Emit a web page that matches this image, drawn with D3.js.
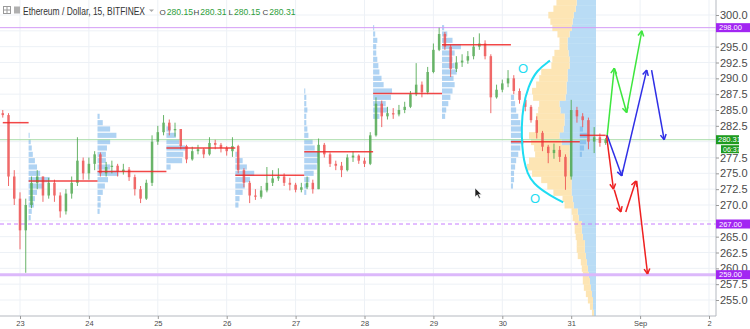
<!DOCTYPE html>
<html>
<head>
<meta charset="utf-8">
<script src="https://cdn.jsdelivr.net/npm/d3@7"></script>
<style>
  body { margin: 0; background: #fff; }
  svg { display: block; font-family: "Liberation Sans", Arial, sans-serif; }
</style>
</head>
<body>
<svg id="chart" width="750" height="329"></svg>
<script>
const candleStart = Date.UTC(2017, 7, 22, 18);
const candleHours = 2;
const firstOpen = 284.5;
const closes = [284.2, 274.5, 271.0, 266.0, 270.0, 273.5, 274.5, 271.5, 273.5, 271.5,
  269.0, 271.8, 273.5, 277.0, 275.0, 276.5, 278.0, 275.0, 276.0, 276.2,
  275.3, 275.6, 274.4, 272.5, 271.0, 273.5, 280.0, 281.5, 283.0, 281.8,
  282.0, 279.3, 277.2, 278.5, 278.8, 278.0, 279.8, 279.5, 279.0, 278.5,
  279.3, 275.5, 273.5, 271.5, 271.3, 272.3, 273.5, 274.2, 274.5, 273.5,
  273.2, 272.4, 272.8, 273.5, 272.5, 279.5, 278.0, 276.5, 276.2, 275.5,
  277.5, 277.8, 277.0, 276.5, 281.0, 286.0, 284.0, 284.5, 284.3, 285.0,
  285.5, 287.5, 289.0, 287.8, 291.0, 294.5, 297.0, 295.0, 291.5, 292.5,
  292.8, 293.5, 295.0, 295.5, 293.5, 287.0, 288.2, 289.2, 290.0, 288.0,
  286.6, 285.5, 283.4, 281.4, 279.2, 278.2, 278.7, 277.6, 274.5, 285.0,
  284.0, 283.4, 280.0, 280.7, 279.8, 280.31];
const highs = [285.0, 284.5, 275.5, 272.0, 271.0, 274.5, 275.5, 274.5, 274.3, 274.0,
  272.0, 272.5, 274.5, 280.7, 277.5, 277.5, 278.5, 278.3, 276.8, 277.0,
  276.5, 276.5, 276.0, 274.8, 273.0, 274.0, 281.0, 282.5, 284.2, 283.5,
  283.0, 282.0, 279.5, 279.2, 279.5, 279.0, 280.7, 280.3, 279.8, 279.3,
  280.7, 279.5, 275.8, 273.8, 272.5, 273.0, 276.0, 275.5, 275.8, 275.0,
  274.3, 273.5, 273.5, 274.5, 274.0, 280.5, 279.8, 278.3, 277.0, 276.8,
  278.0, 278.5, 278.0, 277.5, 281.5, 287.0, 286.5, 285.5, 285.3, 285.8,
  286.3, 288.0, 292.4, 289.5, 291.8, 295.5, 298.0, 297.3, 295.3, 293.5,
  293.8, 294.3, 296.5, 297.1, 296.0, 293.8, 289.0, 289.8, 291.3, 290.5,
  288.4, 287.0, 285.8, 284.0, 281.7, 279.5, 279.7, 279.3, 278.0, 286.6,
  285.5, 284.5, 283.8, 282.3, 281.3, 280.6];
const lows = [283.8, 273.0, 270.0, 263.0, 259.3, 269.5, 272.5, 270.5, 271.0, 270.5,
  268.0, 268.5, 271.0, 273.0, 274.0, 274.0, 275.5, 274.5, 274.5, 275.0,
  274.5, 274.8, 273.8, 271.5, 270.3, 270.8, 273.0, 279.5, 281.0, 281.0,
  280.8, 278.8, 276.6, 277.0, 278.0, 277.4, 277.8, 278.8, 278.3, 277.8,
  277.6, 275.0, 272.8, 270.3, 270.8, 271.0, 272.0, 273.0, 273.8, 273.0,
  272.3, 272.0, 272.0, 272.5, 271.8, 272.5, 277.5, 276.0, 275.5, 274.4,
  275.3, 276.8, 276.5, 276.0, 276.3, 280.8, 282.3, 283.5, 283.6, 284.0,
  284.5, 285.3, 287.2, 287.0, 287.5, 290.8, 294.3, 294.5, 290.2, 291.0,
  291.8, 292.3, 293.0, 294.5, 293.0, 284.5, 286.8, 287.8, 288.6, 287.5,
  286.0, 284.8, 283.0, 280.5, 278.5, 276.6, 277.3, 276.8, 272.4, 274.0,
  283.0, 282.3, 278.8, 278.2, 279.2, 279.5];

const priceTicks = [255, 257.5, 260, 262.5, 265, 267.5, 270, 272.5, 275, 277.5,
  280, 282.5, 285, 287.5, 290, 292.5, 295, 297.5, 300];
const dayTicks = ["2017-08-23", "2017-08-24", "2017-08-25", "2017-08-26", "2017-08-27",
  "2017-08-28", "2017-08-29", "2017-08-30", "2017-08-31", "2017-09-01", "2017-09-02"];
const dayLabels = ["23", "24", "25", "26", "27", "28", "29", "30", "31", "Sep", "2"];

const levelPrices = [298, 267, 259];
const lastPrice = 280.31;
const countdown = "06:37";
const ohlcNames = ["O", "H", "L", "C"];
const ohlcValues = ["280.15", "280.31", "280.15", "280.31"];

// session volume profiles (start hour counted from Aug 23 00:00)
const sessionStartHours = [-6, 3, 27, 51, 75, 99, 123, 147, 171, 195];
const sessionPoc = [283.0, 273.8, 275.3, 279.0, 274.7, 278.4, 287.6, 295.3, 280.0, 281.0];
const sessionLowBin = [null, 268, 269, 276, 270, 272, 284, 284, 273, 278];
const sessionVolumes = [
  [],
  [2, 3, 5, 6, 8, 14, 20, 11, 8, 6, 4, 3, 2, 1],
  [2, 3, 3, 5, 7, 10, 20, 12, 8, 8, 9, 12, 18, 12, 5, 2],
  [4, 15, 16, 18, 12, 9, 4],
  [3, 4, 7, 9, 14, 18, 11, 7, 3],
  [2, 3, 5, 9, 12, 13, 14, 10, 8, 4, 3, 2, 2, 3, 2, 2, 1],
  [6, 14, 12, 17, 18, 10, 8, 6, 5, 4, 3, 3, 4, 2, 1],
  [3, 4, 6, 8, 10, 12, 11, 14, 12, 10, 12, 18, 10, 5, 2],
  [2, 3, 3, 4, 5, 7, 9, 12, 10, 10, 9, 7, 5, 4, 3],
  [2, 4, 6, 7, 3]
];

// visible range profile, one bin per dollar from 253
const vpLowBin = 253;
const vpUpVol = [2, 3, 3, 4, 5, 6, 7, 8, 9, 10, 11, 11, 13, 14, 14, 17, 18, 22, 23, 24,
  24, 24, 25, 26, 26, 26, 26, 34, 36, 32, 31, 31, 35, 36, 30, 29, 29, 28, 28, 26,
  26, 27, 28, 28, 26, 24, 23, 22, 20, 19];
const vpDownVol = [2, 3, 5, 6, 7, 7, 6, 6, 6, 8, 8, 8, 7, 7, 7, 6, 6, 9, 10, 18,
  24, 30, 38, 42, 40, 34, 35, 30, 30, 26, 28, 28, 22, 20, 32, 34, 30, 28, 26, 18,
  17, 14, 8, 8, 12, 19, 22, 25, 22, 20];

// drawings: [hours from Aug 23 00:00, price]
const cyanCurve = [[184.6, 292.8], [180.0, 291.3], [177.0, 288.7], [175.2, 285.5], [174.7, 282.4],
  [174.9, 279.2], [175.5, 277.1], [176.7, 275.0], [178.8, 273.4], [183.5, 271.8], [189.2, 270.4]];
const cyanLabels = [[175.2, 291.6], [179.4, 271.1]];
const greenSegs = [[[204.5, 280.8], [207.0, 291.6]], [[207.0, 291.6], [211.3, 284.6]], [[211.3, 284.6], [216.6, 297.5]]];
const blueSegs = [[[204.5, 281.0], [209.6, 274.6]], [[209.6, 274.6], [218.3, 291.3]], [[220.0, 291.3], [224.4, 280.3]]];
const redSegs = [[[204.3, 281.0], [206.7, 272.5]], [[207.0, 272.4], [209.3, 268.9]],
  [[211.0, 268.9], [214.5, 273.8]], [[214.8, 273.8], [218.6, 259.1]]];
const cursorAt = [158.5, 272.7];

const svg = d3.select("#chart");
const W = 716, H = 316;
const t0 = Date.UTC(2017, 7, 23);
const hrs = h => new Date(t0 + h * 3600e3);

const x = d3.scaleUtc()
  .domain([new Date(t0), new Date(Date.UTC(2017, 8, 2))])
  .range([20, 709]);
const y = d3.scaleLinear().domain([255, 300]).range([300, 15]);
const binH = y(0) - y(1);

svg.append("defs").append("clipPath").attr("id", "plot")
  .append("rect").attr("width", W).attr("height", H);
const plot = svg.append("g").attr("clip-path", "url(#plot)");

// grid
plot.selectAll(".vgrid").data(dayTicks).enter().append("line")
  .attr("x1", d => x(new Date(d))).attr("x2", d => x(new Date(d)))
  .attr("y1", 0).attr("y2", H)
  .attr("stroke", "#edf1f6");
plot.selectAll(".hgrid").data(priceTicks).enter().append("line")
  .attr("x1", 0).attr("x2", W)
  .attr("y1", d => y(d)).attr("y2", d => y(d))
  .attr("stroke", "#edf1f6");

// visible range profile
const vpRight = 596;
const vpTotal = vpUpVol.map((v, i) => v + vpDownVol[i]);
const vpW = d3.scaleLinear().domain([0, d3.max(vpTotal)]).range([0, 69]);
const vp = plot.append("g");
vpUpVol.forEach((v, i) => {
  const p = vpLowBin + i;
  vp.append("rect")
    .attr("x", vpRight - vpW(v)).attr("y", y(p + 0.5))
    .attr("width", vpW(v)).attr("height", binH + 0.3)
    .attr("fill", "#b9dcf5");
  vp.append("rect")
    .attr("x", vpRight - vpW(v) - vpW(vpDownVol[i])).attr("y", y(p + 0.5))
    .attr("width", vpW(vpDownVol[i])).attr("height", binH + 0.3)
    .attr("fill", "#fde5b4");
});

// session profiles
const profW = d3.scaleLinear().domain([0, 20]).range([0, 21]);
sessionVolumes.forEach((vols, s) => {
  const sx = x(hrs(sessionStartHours[s]));
  plot.append("g").selectAll("rect").data(vols).enter().append("rect")
    .attr("x", sx)
    .attr("y", (d, i) => y(sessionLowBin[s] + i + 0.5) + 0.6)
    .attr("width", d => profW(d))
    .attr("height", binH - 1.2)
    .attr("fill", "#5fa8e8")
    .attr("opacity", 0.5);
});

// horizontal levels
const levelStyle = [
  { stroke: "#d39cf6", width: 1, dash: null },
  { stroke: "#c77dff", width: 1, dash: "4,3" },
  { stroke: "#dcb8fb", width: 3, dash: null }
];
levelPrices.forEach((p, i) => {
  plot.append("line")
    .attr("x1", 0).attr("x2", W).attr("y1", y(p)).attr("y2", y(p))
    .attr("stroke", levelStyle[i].stroke)
    .attr("stroke-width", levelStyle[i].width)
    .attr("stroke-dasharray", levelStyle[i].dash);
});
plot.append("line")
  .attr("x1", 0).attr("x2", W).attr("y1", y(lastPrice)).attr("y2", y(lastPrice))
  .attr("stroke", "#a8dca8");

// candles
const candles = closes.map((c, i) => ({
  t: new Date(candleStart + i * candleHours * 3600e3),
  o: i === 0 ? firstOpen : closes[i - 1],
  h: highs[i], l: lows[i], c: c
}));
const cg = plot.append("g").attr("opacity", 0.85);
cg.selectAll(".wick").data(candles).enter().append("line")
  .attr("x1", d => x(d.t)).attr("x2", d => x(d.t))
  .attr("y1", d => y(d.h)).attr("y2", d => y(d.l))
  .attr("stroke", d => d.c >= d.o ? "#4fa84f" : "#ee5050");
cg.selectAll(".body").data(candles).enter().append("rect")
  .attr("x", d => x(d.t) - 1.25)
  .attr("y", d => y(Math.max(d.o, d.c)))
  .attr("width", 2.5)
  .attr("height", d => Math.max(1, Math.abs(y(d.o) - y(d.c))))
  .attr("fill", d => d.c >= d.o ? "#4fa84f" : "#ee5050");

// POC lines
sessionPoc.forEach((p, s) => {
  const x1 = x(hrs(sessionStartHours[s]));
  const x2 = s < sessionPoc.length - 1 ? x(hrs(sessionStartHours[s + 1])) : x(candles[candles.length - 1].t);
  plot.append("line")
    .attr("x1", x1).attr("x2", x2).attr("y1", y(p)).attr("y2", y(p))
    .attr("stroke", "#f02828").attr("stroke-width", 1.5).attr("opacity", 0.85);
});

// cyan bracket
plot.append("path")
  .datum(cyanCurve)
  .attr("d", d3.line().x(d => x(hrs(d[0]))).y(d => y(d[1])).curve(d3.curveBasis))
  .attr("fill", "none").attr("stroke", "#1fdcf2").attr("stroke-width", 2);
plot.selectAll(".olabel").data(cyanLabels).enter().append("text")
  .attr("x", d => x(hrs(d[0]))).attr("y", d => y(d[1]))
  .attr("text-anchor", "middle").attr("dy", "0.35em")
  .attr("font-size", 13).attr("fill", "#1fdcf2").text("O");

// projected arrows
function drawArrows(segs, color) {
  segs.forEach(seg => {
    const [a, b] = seg.map(d => [x(hrs(d[0])), y(d[1])]);
    plot.append("line")
      .attr("x1", a[0]).attr("y1", a[1]).attr("x2", b[0]).attr("y2", b[1])
      .attr("stroke", color).attr("stroke-width", 1.5);
    const ang = Math.atan2(b[1] - a[1], b[0] - a[0]);
    [-0.5, 0.5].forEach(k => {
      plot.append("line")
        .attr("x1", b[0]).attr("y1", b[1])
        .attr("x2", b[0] - 6 * Math.cos(ang + k)).attr("y2", b[1] - 6 * Math.sin(ang + k))
        .attr("stroke", color).attr("stroke-width", 1.5);
    });
  });
}
drawArrows(greenSegs, "#3ee63e");
drawArrows(blueSegs, "#2f2fe6");
drawArrows(redSegs, "#ee2020");

// mouse pointer
plot.append("path")
  .attr("transform", `translate(${x(hrs(cursorAt[0]))},${y(cursorAt[1])})`)
  .attr("d", "M0,0 L0,9 L2.2,7 L4,10.5 L5.4,9.8 L3.7,6.5 L6.5,6.5 Z")
  .attr("fill", "#222").attr("stroke", "#fff").attr("stroke-width", 0.6);

// axes
svg.append("line").attr("x1", W).attr("x2", W).attr("y1", 0).attr("y2", H)
  .attr("stroke", "#b5b9c0");
svg.append("line").attr("x1", 0).attr("x2", W).attr("y1", H).attr("y2", H)
  .attr("stroke", "#b5b9c0");

// price tags sit on top of the scale and hide the labels right under them
const tagPrices = levelPrices.concat([lastPrice]);
const hidden = d => tagPrices.some(p => Math.abs(d - p) < 0.6);
const yAxis = svg.append("g").attr("transform", `translate(${W},0)`)
  .call(d3.axisRight(y).tickValues(priceTicks).tickSize(3).tickPadding(1)
    .tickFormat(d => hidden(d) ? "" : d3.format(".1f")(d)));
yAxis.select(".domain").remove();
yAxis.selectAll("line").attr("stroke", "#9a9a9a");
yAxis.selectAll("text").attr("font-size", 11).attr("fill", "#4a4a4a")
  .attr("font-family", "Liberation Sans, Arial, sans-serif");

const xAxis = svg.append("g").attr("transform", `translate(0,${H})`)
  .call(d3.axisBottom(x).tickValues(dayTicks.map(d => new Date(d)))
    .tickFormat((d, i) => dayLabels[i]).tickSize(3).tickPadding(2));
xAxis.select(".domain").remove();
xAxis.selectAll("line").attr("stroke", "#9a9a9a");
xAxis.selectAll("text").attr("font-size", 7.5).attr("fill", "#4a4a4a")
  .attr("font-family", "Liberation Sans, Arial, sans-serif");

// price labels on the scale
const boxes = svg.append("g");
levelPrices.forEach(p => {
  boxes.append("rect").attr("x", W).attr("y", y(p) - 4.5).attr("width", 40).attr("height", 9)
    .attr("fill", "#a226f2");
  boxes.append("text").attr("x", W + 3).attr("y", y(p)).attr("dy", "0.35em")
    .attr("font-size", 7.5).attr("fill", "#fff").text(p.toFixed(2));
});
boxes.append("rect").attr("x", W).attr("y", y(lastPrice) - 4.5).attr("width", 23).attr("height", 9)
  .attr("fill", "#1f9b1f");
boxes.append("text").attr("x", W + 2).attr("y", y(lastPrice)).attr("dy", "0.35em")
  .attr("font-size", 7.5).attr("fill", "#fff").text(lastPrice.toFixed(2));
boxes.append("rect").attr("x", W + 5).attr("y", y(lastPrice) + 5.5).attr("width", 18).attr("height", 8)
  .attr("fill", "#1f9b1f");
boxes.append("text").attr("x", W + 7).attr("y", y(lastPrice) + 9.5).attr("dy", "0.35em")
  .attr("font-size", 7).attr("fill", "#fff").text(countdown);

// legend
const lg = svg.append("g");
lg.append("rect").attr("x", 3.5).attr("y", 6.5).attr("width", 7).attr("height", 7)
  .attr("fill", "none").attr("stroke", "#9a9a9a");
lg.append("line").attr("x1", 3.5).attr("x2", 10.5).attr("y1", 10).attr("y2", 10).attr("stroke", "#9a9a9a");
lg.append("line").attr("x1", 7).attr("x2", 7).attr("y1", 6.5).attr("y2", 13.5).attr("stroke", "#9a9a9a");
lg.append("rect").attr("x", 14).attr("y", 6.5).attr("width", 6).attr("height", 7).attr("fill", "#b0b0b0");
lg.append("text").attr("x", 23).attr("y", 14.5).attr("font-size", 11)
  .attr("textLength", 122).attr("lengthAdjust", "spacingAndGlyphs")
  .attr("fill", "#333").text("Ethereum / Dollar, 15, BITFINEX");
lg.append("path").attr("d", "M149,9.5 L154,9.5 L151.5,12 Z").attr("fill", "#aaa");
// one text per O/H/L/C item, letter and value as tspans
const ohlcX = [159.5, 193.5, 228.5, 262.5];
ohlcNames.forEach((n, i) => {
  const t = lg.append("text").attr("x", ohlcX[i]).attr("y", 14.5);
  t.append("tspan").attr("fill", "#444").attr("font-size", 8).text(n);
  t.append("tspan").attr("fill", "#2e9e3a").attr("font-size", 8.6).attr("dx", 1).text(ohlcValues[i]);
});
</script>
</body>
</html>
